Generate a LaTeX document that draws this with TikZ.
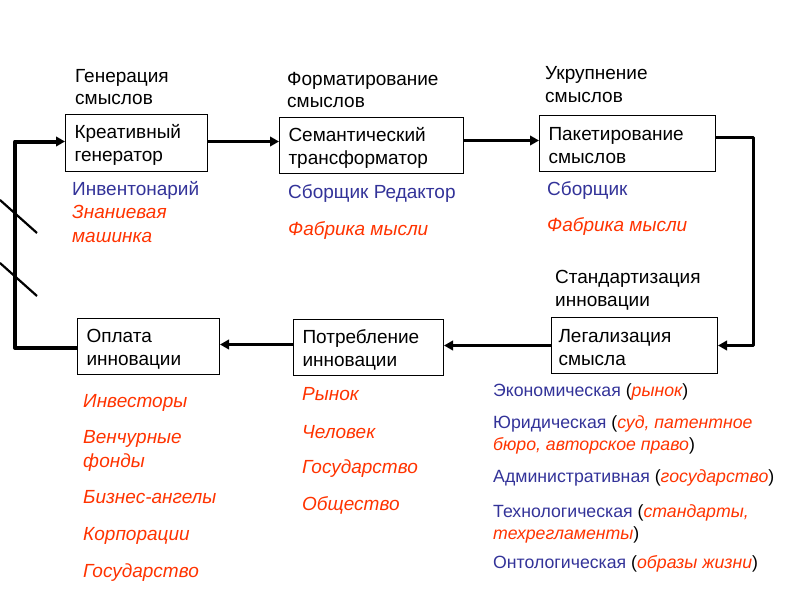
\documentclass[tikz,border=0pt]{standalone}
\usepackage{fontspec}
\setmainfont{Liberation Sans}
\usetikzlibrary{arrows.meta}
\definecolor{tblue}{HTML}{333399}
\definecolor{tred}{HTML}{FF3300}
\begin{document}
\begin{tikzpicture}[x=1pt,y=-1pt,
  box/.style={draw, line width=1pt, anchor=north west, inner xsep=8pt, inner ysep=0pt,
    align=left, font=\fontsize{19}{23}\selectfont, execute at begin node={\rule{0pt}{18pt}}},
  lbl/.style={anchor=base west, inner sep=0pt, font=\fontsize{19}{23}\selectfont},
  sml/.style={anchor=base west, inner sep=0pt, font=\fontsize{17.7}{21}\selectfont, text=tblue},
  blu/.style={lbl, text=tblue},
  rd/.style={lbl, text=tred, font=\fontsize{19}{23}\selectfont\itshape},
  conn/.style={line width=3pt, line join=round, -{Triangle[length=9pt,width=9.5pt]}},
  slash/.style={line width=2.2pt}]
\useasboundingbox (0,0) rectangle (800,600);

% boxes
\node[box, minimum width=142pt, minimum height=57pt, text width=124pt] (b1) at (65,114) {Креативный\\генератор};
\node[box, minimum width=184pt, minimum height=56pt, text width=166pt] (b2) at (279,117) {Семантический\\трансформатор};
\node[box, minimum width=176pt, minimum height=56pt, text width=158pt] (b3) at (539,115) {Пакетирование\\смыслов};
\node[box, inner xsep=6pt, minimum width=166pt, minimum height=56pt, text width=152pt] (b4) at (551,317) {Легализация\\смысла};
\node[box, minimum width=150pt, minimum height=56pt, text width=132pt] (b5) at (293,319) {Потребление\\инновации};
\node[box, minimum width=142pt, minimum height=56pt, text width=124pt] (b6) at (77,318) {Оплата\\инновации};

% headings
\node[lbl] (h1a) at (75,82) {Генерация};
\node[lbl] (h1b) at (75,104) {смыслов};
\node[lbl] (h2a) at (287,85) {Форматирование};
\node[lbl] (h2b) at (287,107) {смыслов};
\node[lbl] (h3a) at (545,79) {Укрупнение};
\node[lbl] (h3b) at (545,102) {смыслов};
\node[lbl] (h4a) at (555,283) {Стандартизация};
\node[lbl] (h4b) at (555,306) {инновации};

% under boxes
\node[blu] (t1a) at (72,195) {Инвентонарий};
\node[rd] (t1b) at (72,218) {Знаниевая};
\node[rd] (t1c) at (72,242) {машинка};
\node[blu] (t2a) at (288,198) {Сборщик Редактор};
\node[rd] (t2b) at (288,235) {Фабрика мысли};
\node[blu] (t3a) at (547,195) {Сборщик};
\node[rd] (t3b) at (547,231) {Фабрика мысли};

\node[rd] (o1) at (83,407) {Инвесторы};
\node[rd] (o2) at (83,443) {Венчурные};
\node[rd] (o3) at (83,467) {фонды};
\node[rd] (o4) at (83,503) {Бизнес-ангелы};
\node[rd] (o5) at (83,540) {Корпорации};
\node[rd] (o6) at (83,577) {Государство};

\node[rd] (p1) at (302,400) {Рынок};
\node[rd] (p2) at (302,438) {Человек};
\node[rd] (p3) at (302,473) {Государство};
\node[rd] (p4) at (302,510) {Общество};

\node[sml] (r1) at (493,396) {Экономическая \textcolor{black}{(}\textcolor{tred}{\itshape рынок}\textcolor{black}{)}};
\node[sml] (r2) at (493,428) {Юридическая \textcolor{black}{(}\textcolor{tred}{\itshape суд, патентное}};
\node[sml] (r3) at (493,450) {\textcolor{tred}{\itshape бюро, авторское право}\textcolor{black}{)}};
\node[sml] (r4) at (493,482) {Административная \textcolor{black}{(}\textcolor{tred}{\itshape государство}\textcolor{black}{)}};
\node[sml] (r5) at (493,517) {Технологическая \textcolor{black}{(}\textcolor{tred}{\itshape стандарты,}};
\node[sml] (r6) at (493,539) {\textcolor{tred}{\itshape техрегламенты}\textcolor{black}{)}};
\node[sml] (r7) at (493,568) {Онтологическая \textcolor{black}{(}\textcolor{tred}{\itshape образы жизни}\textcolor{black}{)}};

% connectors
\coordinate (fb) at (15,0);
\draw[conn] ([yshift=1.5pt]b1.east) -- ([yshift=1.5pt]b1.east -| b2.west);
\draw[conn] ([yshift=5pt]b2.east) -- ([yshift=5pt]b2.east -| b3.west);
\draw[conn] ([yshift=6pt]b3.east) -- ++(37,0) |- (b4.east);
\draw[conn] (b4.west) -- (b4.west -| b5.east);
\draw[conn] ([yshift=3pt]b5.west) -- ([yshift=3pt]b5.west -| b6.east);
\draw[conn, line width=4pt] ([yshift=-1.5pt]b6.west) -- ([yshift=-1.5pt]b6.west -| fb) |- ([yshift=1.5pt]b1.west);

% strokes
\draw[slash] (0,200) -- (37,233);
\draw[slash] (0,263) -- (37,296);
\end{tikzpicture}
\end{document}
